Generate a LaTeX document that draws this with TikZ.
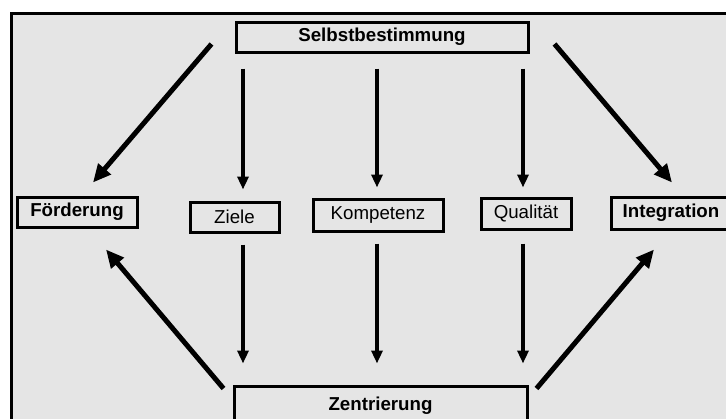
\documentclass[tikz,border=0pt]{standalone}
\usepackage{fontspec}
\setmainfont{Liberation Sans}
\usetikzlibrary{arrows.meta,calc}
\definecolor{panel}{HTML}{E5E5E5}
\begin{document}
\begin{tikzpicture}[x=1pt,y=-1pt,
  box/.style={draw=black,line width=3pt,inner sep=0pt,font=\fontsize{18.7}{22}\selectfont},
  keybox/.style={box,font=\fontsize{18.7}{22}\selectfont\bfseries},
  varr/.style={line width=3.4pt,-{Triangle[length=13pt,width=11pt]}},
  darr/.style={line width=5pt,-{Triangle[length=18pt,width=16pt]}}]
\useasboundingbox (0,0) rectangle (726,418);
\clip (0,0) rectangle (726,418);
% framed grey panel, running off the right and bottom edges
\draw[fill=panel,line width=3.2pt] (11.5,13.5) rectangle (760,460);

% boxes
\node[keybox,minimum width=292pt,minimum height=30pt] (sel) at (382,37) {Selbstbestimmung};
\node[keybox,minimum width=120pt,minimum height=30pt] (foe) at (77,212) {Förderung};
\node[box,minimum width=89pt,minimum height=30pt] (zie) at (234.5,217) {Ziele};
\node[box,minimum width=130pt,minimum height=32pt] (kom) at (378,215) {Kompetenz};
\node[box,minimum width=90pt,minimum height=31pt] (qua) at (526,213.5) {Qualität};
\node[keybox,minimum width=120pt,minimum height=32pt] (int) at (671,213) {Integration};
\node[keybox,minimum width=293pt,minimum height=40pt] (zen) at (380.5,406) {Zentrierung};

% column positions of the vertical arrows
\coordinate (cz) at ([xshift=8.5pt]zie.center);
\coordinate (ck) at ([xshift=-1pt]kom.center);
\coordinate (cq) at ([xshift=-3pt]qua.center);

% vertical arrows from the top box down to the middle row
\draw[varr,shorten <=15pt,shorten >=11pt] (sel.south -| cz) -- (zie.north -| cz);
\draw[varr,shorten <=15pt,shorten >=10pt] (sel.south -| ck) -- (kom.north -| ck);
\draw[varr,shorten <=15pt,shorten >=9pt] (sel.south -| cq) -- (qua.north -| cq);

% vertical arrows from the middle row down to the bottom box
\draw[varr,shorten <=11pt,shorten >=21pt] (zie.south -| cz) -- (zen.north -| cz);
\draw[varr,shorten <=11pt,shorten >=21pt] (kom.south -| ck) -- (zen.north -| ck);
\draw[varr,shorten <=13pt,shorten >=21pt] (qua.south -| cq) -- (zen.north -| cq);

% diagonal arrows to the outer boxes
\draw[darr] ($(sel.west)+(-23,7)$) -- ($(foe.north)+(16,-13)$);
\draw[darr] ($(sel.east)+(25,7)$) -- ($(int.north)+(1,-13)$);
\draw[darr] ($(zen.north west)+(-9,4)$) -- ($(foe.south)+(29,21)$);
\draw[darr] ($(zen.north east)+(8,4)$) -- ($(int.south)+(-17,19)$);
\end{tikzpicture}
\end{document}
